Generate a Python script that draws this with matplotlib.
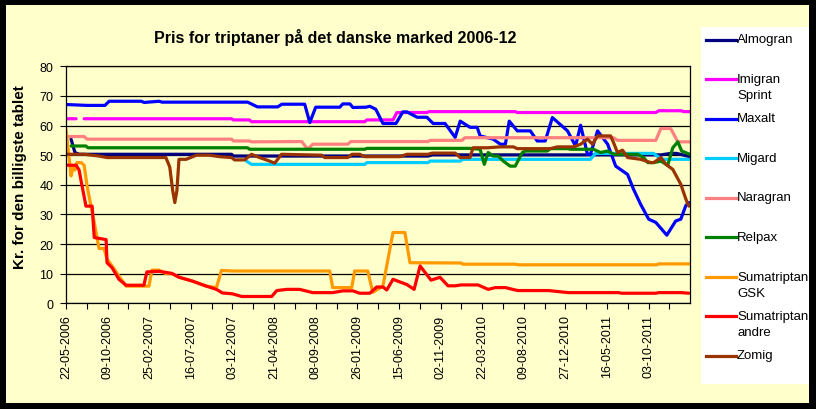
import matplotlib
matplotlib.use("Agg")
import matplotlib.pyplot as plt
import matplotlib.dates as mdates
from matplotlib.lines import Line2D
from matplotlib.patches import Rectangle
from matplotlib.ticker import FixedLocator, NullFormatter
import numpy as np
import pandas as pd

W, H = 816, 410
nan = np.nan

# --- data (dates of breakpoints, kr. per tablet) ---
almogran_dates = ["2006-06-08", "2006-06-21", "2006-07-05", "2007-11-30", "2007-12-06",
                  "2009-09-21", "2009-10-05", "2011-11-13", "2011-12-16", "2012-01-05", "2012-02-18"]
almogran_values = [55.4, 50.9, 50.3, 50.3, 49.7, 49.7, 50.1, 50.1, 50.6, 50.6, 49.5]

imigran_dates = ["2006-05-22", "2006-06-25", "2006-07-08", "2006-07-22", "2007-11-30", "2007-12-06",
                 "2008-01-29", "2008-02-05", "2009-02-20", "2009-02-27", "2009-05-26", "2009-06-08",
                 "2009-09-17", "2009-09-24", "2010-07-11", "2010-07-18", "2011-10-27", "2011-11-06",
                 "2012-01-19", "2012-01-29", "2012-02-18"]
imigran_values = [62.3, 62.3, nan, 62.3, 62.3, 61.9, 61.9, 61.3, 61.3, 61.9, 61.9, 64.4,
                  64.4, 64.7, 64.7, 64.4, 64.4, 65.0, 65.0, 64.7, 64.7]

maxalt_dates = ["2006-05-22", "2006-08-01", "2006-09-30", "2006-10-14", "2007-01-30", "2007-02-09",
                "2007-03-31", "2007-04-10", "2008-01-23", "2008-02-25", "2008-05-03", "2008-05-17",
                "2008-08-02", "2008-08-19", "2008-09-08", "2008-11-28", "2008-12-08", "2009-01-01",
                "2009-01-11", "2009-02-24", "2009-03-09", "2009-03-29", "2009-04-22", "2009-06-05",
                "2009-06-28", "2009-07-12", "2009-08-15", "2009-09-17", "2009-10-08", "2009-11-17",
                "2009-12-21", "2010-01-07", "2010-02-09", "2010-03-05", "2010-03-15", "2010-04-28",
                "2010-05-22", "2010-06-08", "2010-06-21", "2010-07-18", "2010-08-31", "2010-09-23",
                "2010-10-20", "2010-11-13", "2011-01-03", "2011-01-30", "2011-02-16", "2011-03-11",
                "2011-03-21", "2011-04-14", "2011-05-18", "2011-06-14", "2011-07-24", "2011-08-13",
                "2011-09-06", "2011-10-03", "2011-10-27", "2011-12-03", "2012-01-02", "2012-01-19",
                "2012-02-05", "2012-02-15"]
maxalt_values = [67.1, 66.8, 66.8, 68.2, 68.2, 67.8, 68.2, 67.9, 67.9, 66.3, 66.3, 67.2,
                 67.2, 61.0, 66.2, 66.2, 67.3, 67.3, 66.1, 66.2, 66.5, 65.5, 60.7, 60.7,
                 64.6, 64.6, 62.8, 62.8, 60.7, 60.7, 56.0, 61.5, 59.4, 59.4, 56.5, 55.4,
                 53.7, 53.7, 61.5, 58.2, 58.2, 54.8, 54.8, 62.7, 58.2, 53.1, 60.1, 50.3,
                 50.3, 58.2, 53.7, 46.3, 43.5, 38.5, 33.4, 28.4, 27.3, 23.0, 27.8, 28.4,
                 33.0, 34.0]

migard_dates = ["2008-01-19", "2008-02-05", "2009-02-20", "2009-02-27", "2009-09-21", "2009-09-28",
                "2010-01-07", "2010-01-16", "2011-03-21", "2011-04-07", "2011-10-20", "2011-10-31",
                "2011-11-20", "2012-02-18"]
migard_values = [48.0, 46.9, 46.9, 47.5, 47.5, 48.0, 48.0, 48.6, 48.6, 50.6, 50.6, 49.7, 48.6, 48.6]

naragran_dates = ["2006-05-22", "2006-07-22", "2006-08-01", "2007-11-30", "2007-12-06", "2008-01-29",
                  "2008-02-05", "2008-07-23", "2008-08-12", "2008-08-29", "2008-12-25", "2009-01-04",
                  "2009-09-21", "2009-09-28", "2010-01-13", "2010-01-23", "2011-06-07", "2011-06-20",
                  "2011-10-27", "2011-11-13", "2011-12-16", "2012-01-09", "2012-02-18"]
naragran_values = [56.3, 56.3, 55.4, 55.4, 54.8, 54.8, 54.5, 54.6, 52.0, 53.7, 53.7, 54.6,
                   54.6, 55.0, 55.0, 55.9, 55.9, 55.0, 55.0, 59.0, 59.0, 54.5, 54.5]

relpax_dates = ["2006-06-08", "2006-07-28", "2006-08-04", "2008-01-23", "2008-01-29", "2009-02-20",
                "2009-02-27", "2010-02-09", "2010-03-15", "2010-03-29", "2010-04-11", "2010-04-28",
                "2010-05-15", "2010-06-01", "2010-06-24", "2010-07-11", "2010-08-04", "2010-08-14",
                "2010-10-27", "2010-11-06", "2011-01-03", "2011-01-13", "2011-03-31", "2011-04-24",
                "2011-05-18", "2011-06-07", "2011-08-27", "2011-09-16", "2011-09-30", "2011-10-20",
                "2011-11-13", "2011-12-06", "2011-12-23", "2012-01-09", "2012-01-22", "2012-02-18"]
relpax_values = [53.1, 53.1, 52.5, 52.5, 52.0, 52.0, 52.3, 52.3, 52.0, 46.9, 50.9, 49.7,
                 49.7, 48.0, 46.3, 46.3, 50.9, 51.4, 51.4, 52.2, 52.2, 52.0, 52.0, 50.9,
                 51.4, 50.3, 50.3, 49.2, 47.5, 47.5, 48.0, 46.6, 52.5, 54.5, 51.4, 50.3]

suma_gsk_dates = ["2006-05-22", "2006-06-08", "2006-06-15", "2006-06-21", "2006-06-28", "2006-07-12",
                  "2006-07-22", "2006-08-01", "2006-08-15", "2006-08-25", "2006-09-10", "2006-09-27",
                  "2006-10-07", "2006-10-24", "2006-11-16", "2006-12-10", "2007-02-25", "2007-03-07",
                  "2007-03-31", "2007-04-23", "2007-05-13", "2007-06-06", "2007-07-21", "2007-09-06",
                  "2007-10-10", "2007-10-27", "2007-12-03", "2008-10-25", "2008-11-04", "2009-01-07",
                  "2009-01-17", "2009-03-02", "2009-03-19", "2009-04-22", "2009-05-26", "2009-07-05",
                  "2009-07-22", "2010-01-10", "2010-01-16", "2010-07-11", "2010-07-21", "2011-10-30",
                  "2011-11-06", "2012-02-18"]
suma_gsk_values = [58.7, 43.0, 46.3, 45.0, 47.5, 47.5, 46.6, 39.6, 32.3, 27.3, 18.5, 18.5,
                   14.9, 12.6, 9.2, 5.8, 5.8, 11.2, 11.2, 10.0, 10.0, 8.8, 7.5, 5.8,
                   5.3, 11.1, 10.9, 10.9, 5.3, 5.3, 10.9, 10.9, 3.7, 5.8, 23.9, 23.9,
                   13.7, 13.6, 13.2, 13.2, 13.0, 13.0, 13.3, 13.3]

suma_andre_dates = ["2006-05-22", "2006-06-25", "2006-07-05", "2006-07-15", "2006-07-22", "2006-07-28",
                    "2006-08-18", "2006-08-25", "2006-10-04", "2006-10-07", "2006-10-24", "2006-11-16",
                    "2006-12-10", "2007-02-08", "2007-02-18", "2007-03-31", "2007-05-13", "2007-06-06",
                    "2007-07-21", "2007-09-06", "2007-10-10", "2007-10-30", "2007-12-03", "2008-01-03",
                    "2008-04-13", "2008-04-30", "2008-06-03", "2008-07-16", "2008-08-29", "2008-11-04",
                    "2008-12-08", "2009-01-11", "2009-02-03", "2009-03-09", "2009-04-01", "2009-04-22",
                    "2009-05-05", "2009-05-26", "2009-07-12", "2009-08-05", "2009-08-25", "2009-10-01",
                    "2009-10-31", "2009-11-27", "2009-12-21", "2010-01-10", "2010-03-08", "2010-04-11",
                    "2010-05-05", "2010-06-08", "2010-07-11", "2010-07-21", "2010-10-31", "2011-01-06",
                    "2011-06-24", "2011-07-04", "2011-10-27", "2011-11-06", "2012-01-22", "2012-02-15"]
suma_andre_values = [46.6, 46.6, 45.0, 39.6, 36.0, 32.8, 32.8, 22.2, 21.5, 13.7, 12.0, 8.1,
                     6.1, 6.1, 10.6, 10.8, 10.1, 8.8, 7.5, 5.8, 4.7, 3.5, 3.2, 2.3,
                     2.3, 4.3, 4.7, 4.7, 3.6, 3.6, 4.2, 4.2, 3.4, 3.4, 5.5, 5.5,
                     4.5, 8.1, 6.3, 4.7, 12.6, 7.8, 8.8, 5.9, 5.9, 6.2, 6.2, 4.7,
                     5.3, 5.3, 4.5, 4.3, 4.3, 3.6, 3.6, 3.4, 3.4, 3.6, 3.6, 3.4]

zomig_dates = ["2006-05-22", "2006-07-22", "2006-09-10", "2006-10-07", "2007-04-23", "2007-05-06",
               "2007-05-16", "2007-05-23", "2007-05-30", "2007-06-06", "2007-06-30", "2007-08-04",
               "2007-09-16", "2007-10-20", "2007-11-30", "2007-12-10", "2008-01-13", "2008-02-05",
               "2008-03-03", "2008-04-06", "2008-04-23", "2008-05-16", "2008-09-28", "2008-10-08",
               "2008-12-25", "2009-01-08", "2009-02-03", "2009-02-20", "2009-06-18", "2009-07-12",
               "2009-09-21", "2009-10-05", "2009-12-21", "2010-01-07", "2010-02-09", "2010-02-19",
               "2010-04-08", "2010-05-22", "2010-07-05", "2010-07-18", "2010-11-06", "2010-11-30",
               "2011-01-23", "2011-02-16", "2011-03-11", "2011-03-28", "2011-04-14", "2011-05-28",
               "2011-06-07", "2011-06-20", "2011-07-07", "2011-07-24", "2011-09-06", "2011-10-10",
               "2011-10-20", "2011-11-13", "2011-11-30", "2011-12-23", "2012-01-19", "2012-02-05",
               "2012-02-15"]
zomig_values = [50.3, 50.3, 49.7, 49.2, 49.2, 46.0, 38.0, 34.0, 38.0, 48.6, 48.6, 50.0,
                50.0, 49.5, 49.2, 48.4, 48.4, 50.3, 49.2, 48.0, 47.3, 50.3, 50.0, 49.2,
                49.2, 50.3, 50.3, 49.5, 49.5, 50.3, 50.3, 50.7, 50.7, 49.2, 49.2, 52.5,
                52.5, 52.8, 52.8, 52.2, 52.2, 52.8, 52.8, 53.7, 55.4, 53.7, 56.5, 56.5,
                54.2, 50.9, 51.7, 49.2, 48.6, 47.5, 47.5, 49.2, 46.9, 45.2, 40.2, 35.2,
                32.8]

series_names = ["Almogran", "Imigran\nSprint", "Maxalt", "Migard", "Naragran", "Relpax",
                "Sumatriptan\nGSK", "Sumatriptan\nandre", "Zomig"]
series_dates = [almogran_dates, imigran_dates, maxalt_dates, migard_dates, naragran_dates,
                relpax_dates, suma_gsk_dates, suma_andre_dates, zomig_dates]
series_values = [almogran_values, imigran_values, maxalt_values, migard_values, naragran_values,
                 relpax_values, suma_gsk_values, suma_andre_values, zomig_values]
series_colors = ["#000080", "#FF00FF", "#0000FF", "#00CCFF", "#FF8080", "#008000",
                 "#FF9900", "#FF0000", "#993300"]

# x tick labels as printed on the reference
tick_dates = ["2006-05-22", "2006-10-09", "2007-02-25", "2007-07-16", "2007-12-03",
              "2008-04-21", "2008-09-08", "2009-01-26", "2009-06-15", "2009-11-02",
              "2010-03-22", "2010-08-09", "2010-12-27", "2011-05-16", "2011-10-03"]
axis_start = "2006-05-22"
axis_end = "2012-02-20"
y_ticks = [0, 10, 20, 30, 40, 50, 60, 70, 80]

title = "Pris for triptaner på det danske marked 2006-12"
y_label = "Kr. for den billigste tablet"


def px(x, y):
    # pixel (from top-left) -> figure fraction
    return x / W, 1 - y / H


def main():
    plt.rcParams['font.family'] = ['Liberation Sans', 'DejaVu Sans']
    fig = plt.figure(figsize=(W / 100, H / 100), dpi=100)
    fig.patch.set_facecolor("black")

    # yellow chart area and white legend box
    fig.patches.append(Rectangle(px(6, 404), 803 / W, 398 / H, transform=fig.transFigure,
                                 facecolor="#FFFFCC", edgecolor="none", zorder=-2))
    fig.patches.append(Rectangle(px(701, 385), 108 / W, 357 / H, transform=fig.transFigure,
                                 facecolor="white", edgecolor="none", zorder=-1))

    left, top = px(66, 67.3)
    right, bottom = px(690.3, 304.3)
    ax = fig.add_axes([left, bottom, right - left, top - bottom])
    ax.set_zorder(2)
    ax.set_facecolor("none")

    for dates, values, color in zip(series_dates, series_values, series_colors):
        ax.plot(pd.to_datetime(dates), values, color=color, lw=2.3,
                solid_joinstyle="round", solid_capstyle="round")

    ax.set_xlim(pd.Timestamp(axis_start), pd.Timestamp(axis_end))
    ax.set_ylim(0, 80)

    major = pd.to_datetime(tick_dates)
    edges = list(major) + [pd.Timestamp(axis_end)]
    minor = [a + (b - a) / 2 for a, b in zip(edges[:-1], edges[1:])]
    ax.set_xticks(mdates.date2num(major), [d.strftime("%d-%m-%Y") for d in major], rotation=90)
    ax.xaxis.set_minor_locator(FixedLocator(mdates.date2num(minor)))
    ax.xaxis.set_minor_formatter(NullFormatter())
    ax.tick_params(axis="x", which="both", direction="out", length=4, width=0.8,
                   color="black", labelsize=9, pad=4)

    ax.set_yticks(y_ticks)
    ax.tick_params(axis="y", direction="out", length=4, width=0.8, labelsize=9, pad=5)
    ax.yaxis.grid(True, color="black", lw=0.9)
    ax.set_axisbelow(True)
    for sp in ax.spines.values():
        sp.set_color("black")
        sp.set_linewidth(0.9)

    tx, ty = px(335.5, 38)
    fig.text(tx, ty, title, ha="center", va="center", fontsize=11.5, fontweight="bold")
    lx, ly = px(20, 177)
    fig.text(lx, ly, y_label, ha="center", va="center", rotation=90,
             fontsize=11, fontweight="bold")

    # legend drawn by hand to follow the reference box
    for i, (name, color) in enumerate(zip(series_names, series_colors)):
        y = 40.5 + i * 39.5
        x0, yy = px(706, y)
        x1, _ = px(736, y)
        fig.add_artist(Line2D([x0, x1], [yy, yy], color=color, lw=2.3,
                              transform=fig.transFigure, zorder=3))
        for j, part in enumerate(name.split("\n")):
            tx, ty = px(737, y + j * 16.5)
            fig.text(tx, ty, part, ha="left", va="center", fontsize=9.5, zorder=3)

    fig.savefig("out.png", dpi=100, facecolor=fig.get_facecolor())


if __name__ == "__main__":
    main()
